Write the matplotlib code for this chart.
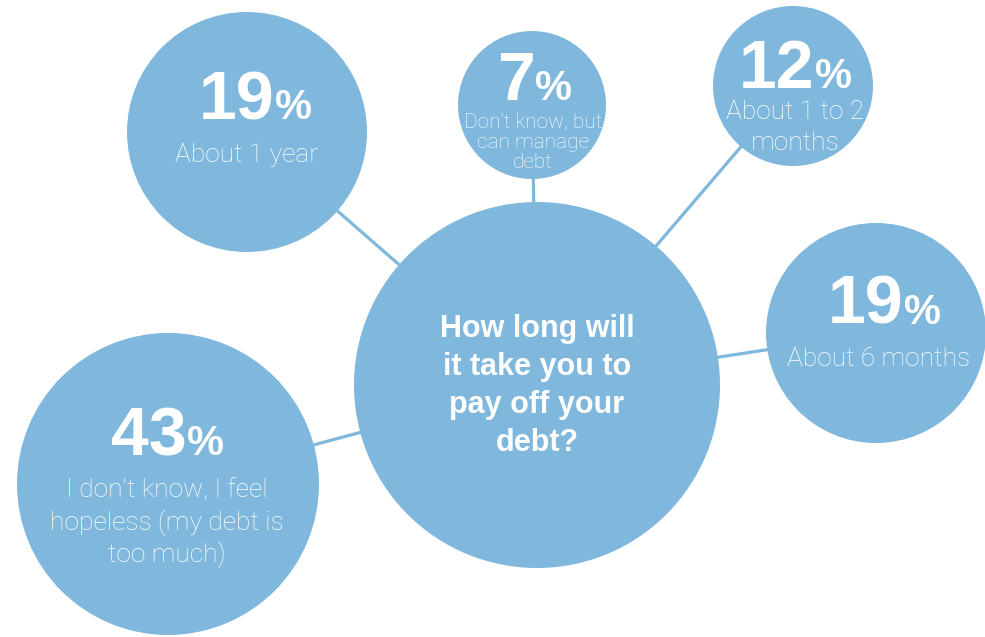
import matplotlib
matplotlib.use("Agg")
import matplotlib.pyplot as plt
from matplotlib.patches import Circle

# data
pcts = [19, 7, 12, 19, 43]
labels = ["About 1 year",
          "Don't know, but\ncan manage\ndebt",
          "About 1 to 2\nmonths",
          "About 6 months",
          "I don't know, I feel\nhopeless (my debt is\ntoo much)"]
question = "How long will\nit take you to\npay off your\ndebt?"

# layout (pixel units, y down)
hub = (537, 385, 183)
bubbles = [(247, 132, 120), (532, 105, 74), (793, 86, 80), (876, 333, 110), (168, 484, 151)]
num_base = [119, 100, 88, 324, 455]
lab_base = [162, 128, 119, 366, 498]
lab_size = [19, 15, 19, 19, 19]
lab_step = [0, 20, 31, 0, 32]
num_dx = [8, 2, 2, 8, -1]
lab_dx = [0, 1, 2, 3, -1]

blue = "#7fb8dc"
W, H = 985, 637

fig = plt.figure(figsize=(W / 100, H / 100), dpi=100)
ax = fig.add_axes([0, 0, 1, 1])
ax.set_xlim(0, W)
ax.set_ylim(H, 0)
ax.axis("off")

# connectors
for (x, y, r) in bubbles:
    ax.plot([x, hub[0]], [y, hub[1]], color=blue, lw=2.3, zorder=1, solid_capstyle="butt")

ax.add_patch(Circle(hub[:2], hub[2], color=blue, lw=0, zorder=2))
for (x, y, r) in bubbles:
    ax.add_patch(Circle((x, y), r, color=blue, lw=0, zorder=2))

bold = dict(family=["Liberation Sans", "DejaVu Sans"], weight="bold", color="white", zorder=3)
light = dict(family=["Roboto", "DejaVu Sans"], weight="light", color="white", zorder=3)

fig.canvas.draw()
renderer = fig.canvas.get_renderer()

for i, (x, y, r) in enumerate(bubbles):
    t1 = ax.text(0, num_base[i], str(pcts[i]), fontsize=49, ha="left", va="baseline", **bold)
    t2 = ax.text(0, num_base[i], "%", fontsize=30, ha="left", va="baseline", **bold)
    w1 = t1.get_window_extent(renderer).width
    w2 = t2.get_window_extent(renderer).width
    left = x + num_dx[i] - (w1 + w2) / 2
    t1.set_x(left)
    t2.set_x(left + w1 + 1)
    for j, line in enumerate(labels[i].split("\n")):
        ax.text(x + lab_dx[i], lab_base[i] + j * lab_step[i], line, fontsize=lab_size[i],
                ha="center", va="baseline", **light)

for j, line in enumerate(question.split("\n")):
    ax.text(hub[0], 337 + j * 38, line, fontsize=22, ha="center", va="baseline", **bold)

fig.savefig("out.png", dpi=100, facecolor="white")
